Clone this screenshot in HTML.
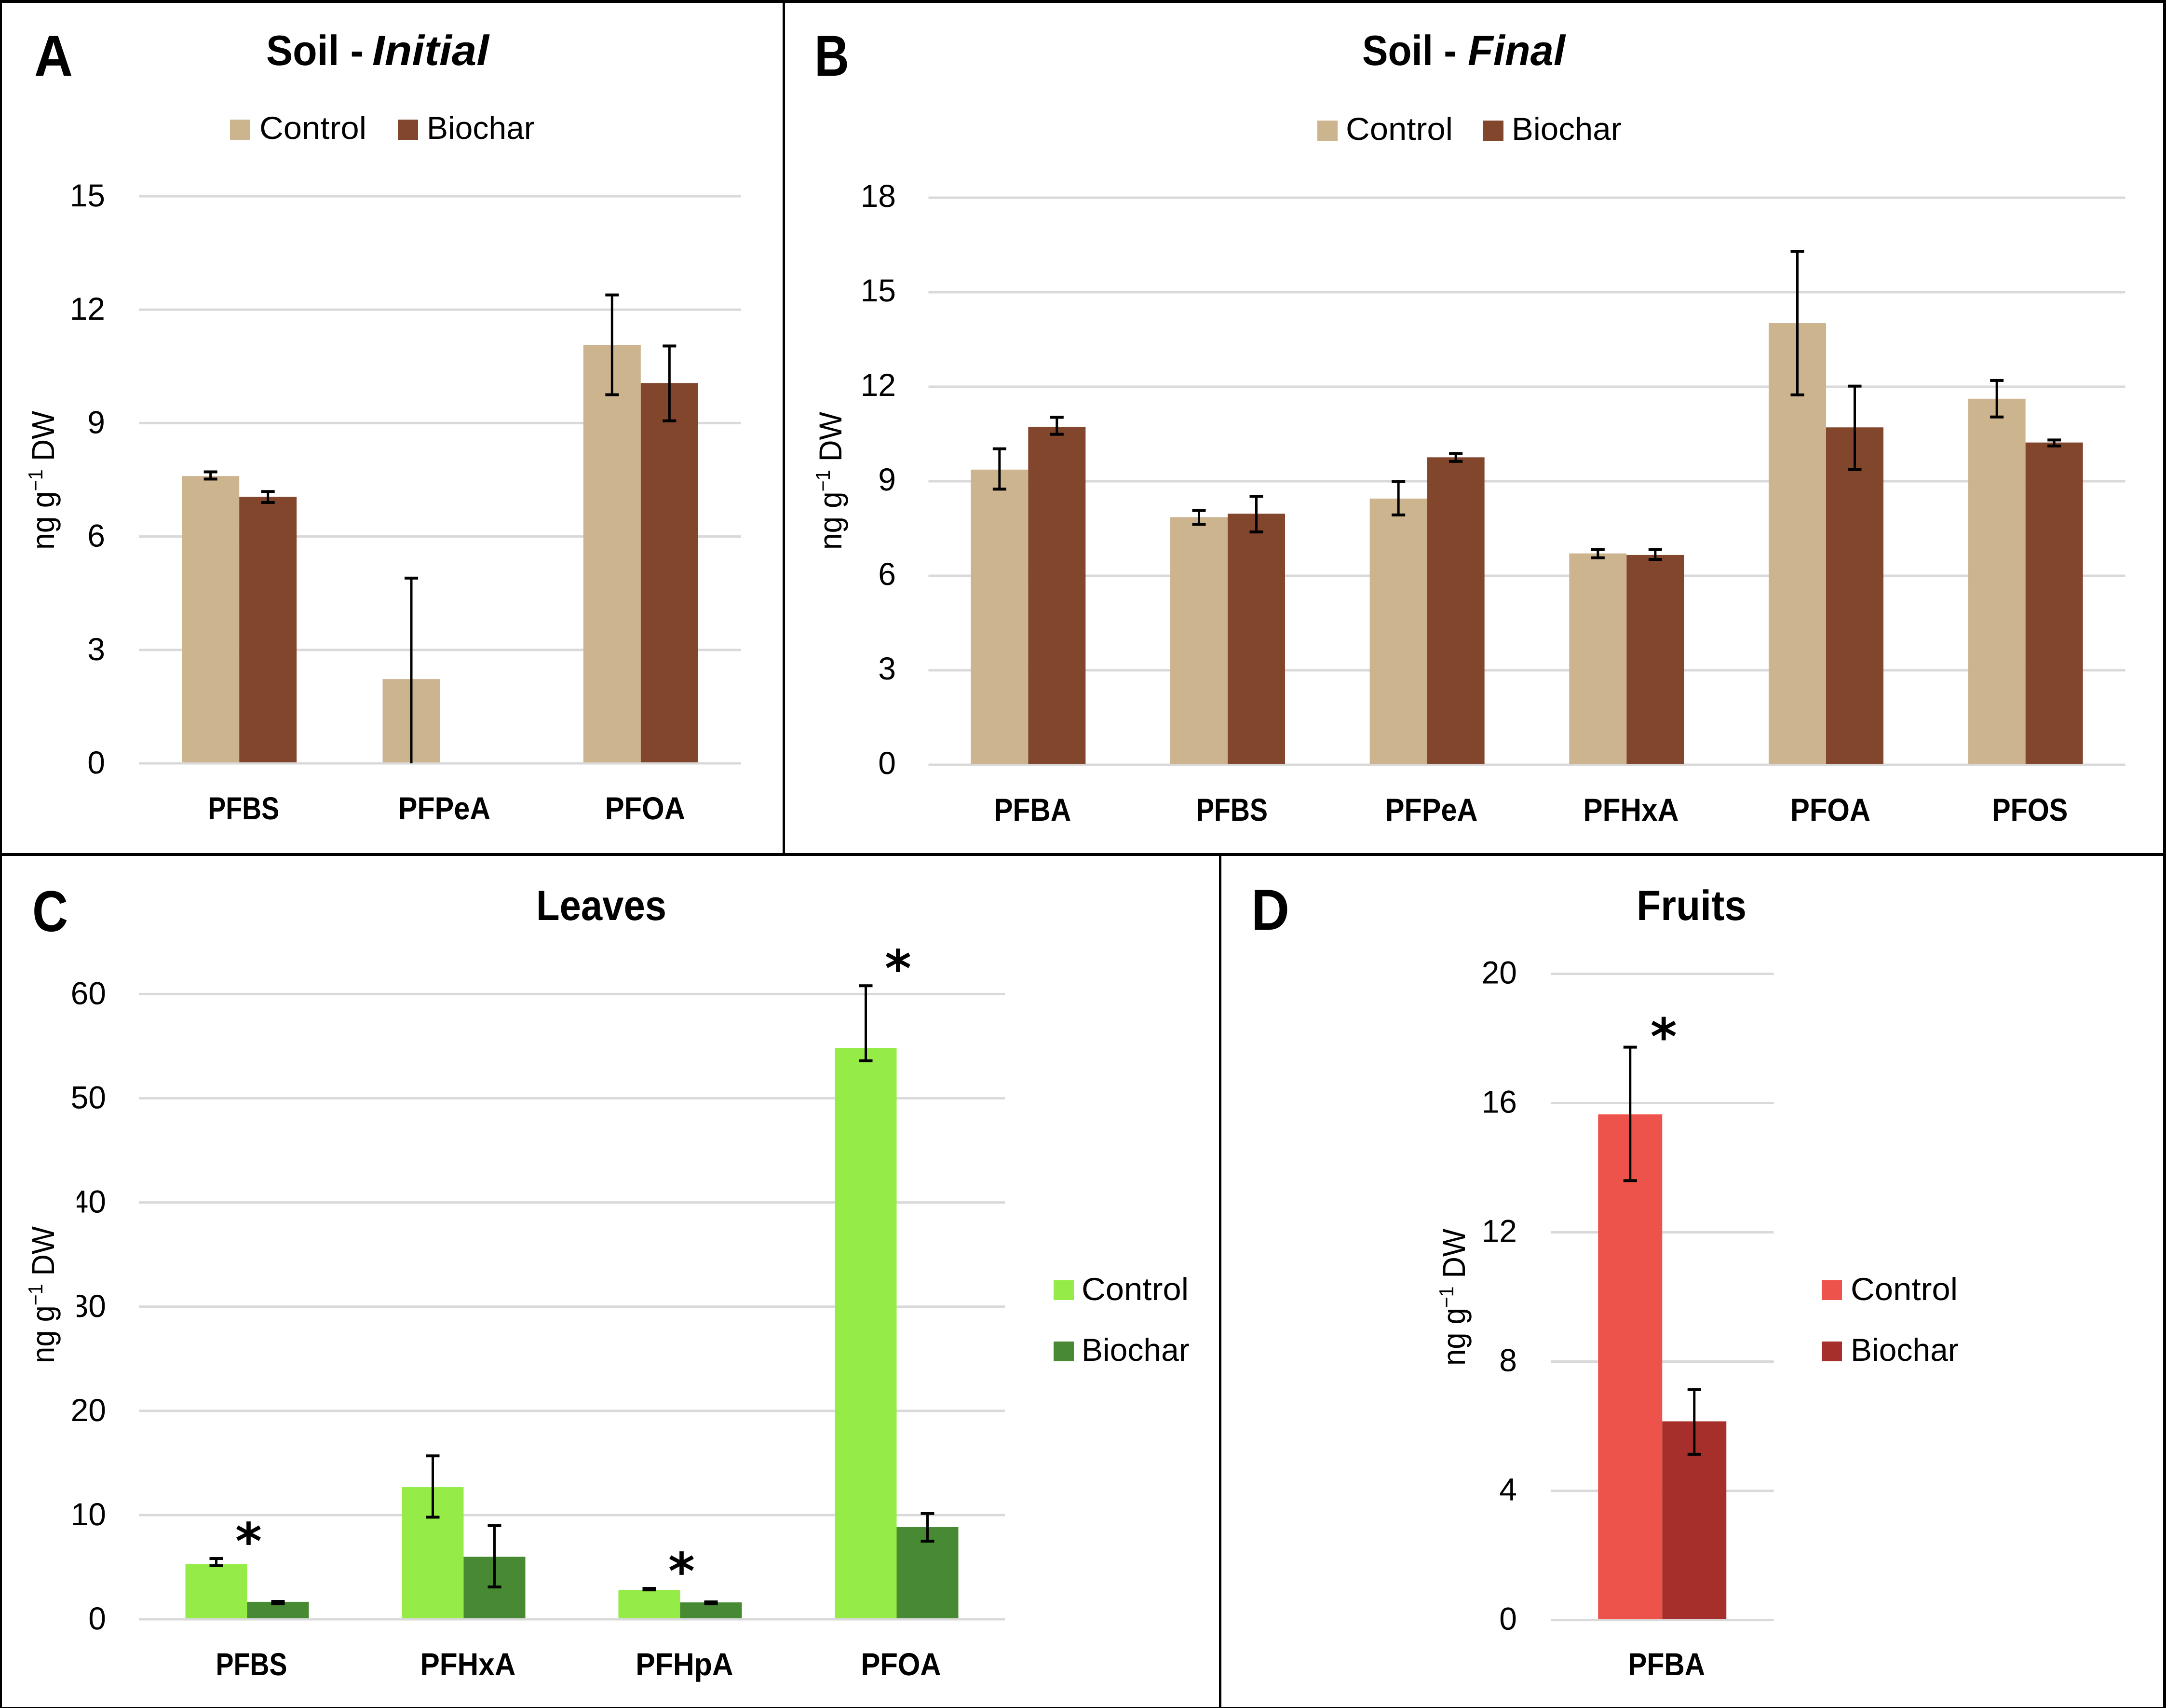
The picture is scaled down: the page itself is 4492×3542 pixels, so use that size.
<!DOCTYPE html>
<html lang="en">
<head>
<meta charset="utf-8">
<title>PFAS concentrations: soil, leaves and fruits</title>
<style>
html,body{margin:0;padding:0;background:#fff;}
body{width:4492px;height:3542px;overflow:hidden;}
svg{display:block;font-family:"Liberation Sans",sans-serif;text-rendering:geometricPrecision;}
</style>
</head>
<body>
<svg id="figure" xmlns="http://www.w3.org/2000/svg" width="4492" height="3542" viewBox="0 0 4492 3542">
  <rect x="0" y="0" width="4492" height="3542" fill="#ffffff"/>

  <g id="marks-a"></g>
  <g id="marks-b"></g>
  <g id="marks-c"></g>
  <g id="marks-d"></g>

  <rect x="60" y="2400" width="99" height="400" fill="#ffffff"/>

  <g fill="#000000">
    <rect x="0" y="0" width="4492" height="6"/>
    <rect x="0" y="0" width="4" height="3542"/>
    <rect x="4486" y="0" width="6" height="3542"/>
    <rect x="0" y="3540" width="4492" height="2"/>
    <rect x="0" y="1769" width="4492" height="6"/>
    <rect x="1623" y="0" width="5" height="1772"/>
    <rect x="2528" y="1772" width="5" height="1770"/>
  </g>

  <g font-size="120" font-weight="700" fill="#000">
    <text x="71" y="157" textLength="80" lengthAdjust="spacingAndGlyphs">A</text>
    <text x="1689" y="157" textLength="72" lengthAdjust="spacingAndGlyphs">B</text>
    <text x="67" y="1931" textLength="74" lengthAdjust="spacingAndGlyphs">C</text>
    <text x="2595" y="1928" textLength="79" lengthAdjust="spacingAndGlyphs">D</text>
  </g>

  <g font-size="88" font-weight="700" fill="#000">
    <text x="552" y="135" textLength="202" lengthAdjust="spacingAndGlyphs">Soil -</text>
    <text x="772" y="135" textLength="242" lengthAdjust="spacingAndGlyphs" font-style="italic">Initial</text>
    <text x="2825" y="135" textLength="196" lengthAdjust="spacingAndGlyphs">Soil -</text>
    <text x="3044" y="135" textLength="202" lengthAdjust="spacingAndGlyphs" font-style="italic">Final</text>
    <text x="1112" y="1908" textLength="270" lengthAdjust="spacingAndGlyphs">Leaves</text>
    <text x="3394" y="1908" textLength="228" lengthAdjust="spacingAndGlyphs">Fruits</text>
  </g>

  <g font-size="66" fill="#000">
    <text transform="translate(112,1140) rotate(-90)" textLength="288" lengthAdjust="spacingAndGlyphs">ng g<tspan dy="-24" font-size="42">−1</tspan><tspan dy="24"> DW</tspan></text>
    <text transform="translate(1745,1140) rotate(-90)" textLength="286" lengthAdjust="spacingAndGlyphs">ng g<tspan dy="-24" font-size="42">−1</tspan><tspan dy="24"> DW</tspan></text>
    <text transform="translate(112,2827) rotate(-90)" textLength="284" lengthAdjust="spacingAndGlyphs">ng g<tspan dy="-24" font-size="42">−1</tspan><tspan dy="24"> DW</tspan></text>
    <text transform="translate(3038,2832) rotate(-90)" textLength="284" lengthAdjust="spacingAndGlyphs">ng g<tspan dy="-24" font-size="42">−1</tspan><tspan dy="24"> DW</tspan></text>
  </g>

  <g font-size="66" fill="#000">
    <rect x="477" y="248" width="42" height="42" fill="#CCB48F"/>
    <text x="538" y="288" textLength="222" lengthAdjust="spacingAndGlyphs">Control</text>
    <rect x="825" y="248" width="42" height="42" fill="#82462D"/>
    <text x="885" y="288">Biochar</text>
  </g>
  <g font-size="66" fill="#000">
    <rect x="2732" y="250" width="42" height="42" fill="#CCB48F"/>
    <text x="2791" y="290" textLength="222" lengthAdjust="spacingAndGlyphs">Control</text>
    <rect x="3076" y="250" width="42" height="42" fill="#82462D"/>
    <text x="3135" y="290" textLength="228" lengthAdjust="spacingAndGlyphs">Biochar</text>
  </g>
  <g font-size="66" fill="#000">
    <rect x="2185" y="2655" width="42" height="41" fill="#96EC47"/>
    <text x="2243" y="2696" textLength="222" lengthAdjust="spacingAndGlyphs">Control</text>
    <rect x="2185" y="2782" width="42" height="41" fill="#478A33"/>
    <text x="2243" y="2822">Biochar</text>
  </g>
  <g font-size="66" fill="#000">
    <rect x="3778" y="2655" width="42" height="41" fill="#EE534B"/>
    <text x="3838" y="2696" textLength="222" lengthAdjust="spacingAndGlyphs">Control</text>
    <rect x="3778" y="2782" width="42" height="41" fill="#A62F2B"/>
    <text x="3838" y="2822">Biochar</text>
  </g>
</svg>

<script>
// Panel A: Soil - Initial
const aCategories = ['PFBS', 'PFPeA', 'PFOA'];
const aTicks = [0, 3, 6, 9, 12, 15];
const aControl = [7.6, 2.23, 11.07];
const aBiochar = [7.05, 0, 10.06];
const aControlHigh = [7.71, 4.9, 12.39];
const aControlLow = [7.52, 0, 9.75];
const aBiocharHigh = [7.19, 0, 11.04];
const aBiocharLow = [6.9, 0, 9.06];
const aSignificant = [false, false, false];

// Panel B: Soil - Final
const bCategories = ['PFBA', 'PFBS', 'PFPeA', 'PFHxA', 'PFOA', 'PFOS'];
const bTicks = [0, 3, 6, 9, 12, 15, 18];
const bControl = [9.37, 7.86, 8.45, 6.71, 14.02, 11.62];
const bBiochar = [10.73, 7.97, 9.76, 6.66, 10.71, 10.23];
const bControlHigh = [10.03, 8.07, 8.99, 6.83, 16.3, 12.2];
const bControlLow = [8.75, 7.63, 7.93, 6.57, 11.74, 11.04];
const bBiocharHigh = [11.03, 8.52, 9.88, 6.83, 12.02, 10.31];
const bBiocharLow = [10.49, 7.39, 9.63, 6.52, 9.37, 10.12];
const bSignificant = [false, false, false, false, false, false];

// Panel C: Leaves
const cCategories = ['PFBS', 'PFHxA', 'PFHpA', 'PFOA'];
const cTicks = [0, 10, 20, 30, 40, 50, 60];
const cControl = [5.3, 12.68, 2.82, 54.84];
const cBiochar = [1.67, 6.0, 1.62, 8.84];
const cControlHigh = [5.83, 15.68, 2.96, 60.8];
const cControlLow = [5.14, 9.8, 2.82, 53.6];
const cBiocharHigh = [1.71, 8.98, 1.67, 10.16];
const cBiocharLow = [1.48, 3.1, 1.48, 7.5];
const cSignificant = [true, false, true, true];

// Panel D: Fruits
const dCategories = ['PFBA'];
const dTicks = [0, 4, 8, 12, 16, 20];
const dControl = [15.65];
const dBiochar = [6.15];
const dControlHigh = [17.73];
const dControlLow = [13.6];
const dBiocharHigh = [7.13];
const dBiocharLow = [5.13];
const dSignificant = [true];

const SVG_NS = 'http://www.w3.org/2000/svg';
const labelCondense = { PFBS: 0.84, PFBA: 0.89, PFOS: 0.875, PFOA: 0.906, PFPeA: 0.9, PFHxA: 0.915, PFHpA: 0.92 };

function makeRect(parent, x, y, w, h, fill) {
  const el = document.createElementNS(SVG_NS, 'rect');
  el.setAttribute('x', x);
  el.setAttribute('y', y);
  el.setAttribute('width', w);
  el.setAttribute('height', h);
  el.setAttribute('fill', fill);
  parent.appendChild(el);
  return el;
}

function makeText(parent, str, x, y, size, anchor) {
  const el = document.createElementNS(SVG_NS, 'text');
  el.textContent = str;
  el.setAttribute('x', x);
  el.setAttribute('y', y);
  el.setAttribute('font-size', size);
  el.setAttribute('text-anchor', anchor);
  el.setAttribute('fill', '#000');
  parent.appendChild(el);
  return el;
}

function drawError(parent, cx, high, low, yScale, series, category) {
  if (high === 0 && low === 0) return;
  const stem = makeRect(parent, cx - 2.5, yScale(high), 5, yScale(low) - yScale(high), '#000');
  
  
  const capTop = makeRect(parent, cx - 14, yScale(high) - 3, 28, 6, '#000');
  
  
  if (low > 0) {
    const capBottom = makeRect(parent, cx - 14, yScale(low) - 3, 28, 6, '#000');
    
    
  }
}

function drawPanel(p) {
  const g = document.getElementById(p.id);
  const yMax = p.ticks[p.ticks.length - 1];
  const yScale = v => p.y0 - (v / yMax) * (p.y0 - p.yTop);
  const catW = (p.right - p.left) / p.categories.length;
  const xCenter = i => p.left + (i + 0.5) * catW;

  p.ticks.forEach(t => {
    const line = makeRect(g, p.left, yScale(t) - 2.5, p.right - p.left, 5, '#D9D9D9');
    
    
    const label = makeText(g, String(t), p.tickRight, yScale(t) + p.tickDrop, 66, 'end');
    
    
  });

  p.categories.forEach((cat, i) => {
    const cx = xCenter(i);
    const base = yScale(0) - 2;
    if (p.control[i] > 0) {
      const bar = makeRect(g, cx - p.barW, yScale(p.control[i]), p.barW, base - yScale(p.control[i]), p.colorControl);
      
      
    }
    if (p.biochar[i] > 0) {
      const bar = makeRect(g, cx, yScale(p.biochar[i]), p.barW, base - yScale(p.biochar[i]), p.colorBiochar);
      
      
    }
    drawError(g, cx - p.barW / 2, p.controlHigh[i], p.controlLow[i], yScale, 'control', cat);
    drawError(g, cx + p.barW / 2, p.biocharHigh[i], p.biocharLow[i], yScale, 'biochar', cat);

    const xl = makeText(g, cat, cx + 9, p.labelY, 66, 'middle');
    xl.setAttribute('font-weight', '700');
    xl.setAttribute('lengthAdjust', 'spacingAndGlyphs');
    xl.setAttribute('textLength', (xl.getComputedTextLength() * (labelCondense[cat] || 0.88)).toFixed(1));
    
    

    if (p.significant[i]) {
      const star = makeText(g, '*', cx + 3, yScale(p.controlHigh[i]) - p.starGap + 54, 105, 'middle');
      star.setAttribute('font-family', '"DejaVu Sans", sans-serif');
      star.setAttribute('font-weight', '700');
      
      
    }
  });
}

drawPanel({ id: 'marks-a', left: 288, right: 1537, y0: 1583, yTop: 407, barW: 119, tickRight: 218, tickDrop: 21, labelY: 1699, starGap: 53,
  colorControl: '#CCB48F', colorBiochar: '#82462D', categories: aCategories, ticks: aTicks, control: aControl, biochar: aBiochar,
  controlHigh: aControlHigh, controlLow: aControlLow, biocharHigh: aBiocharHigh, biocharLow: aBiocharLow, significant: aSignificant });

drawPanel({ id: 'marks-b', left: 1925.5, right: 4407.5, y0: 1586, yTop: 410, barW: 119, tickRight: 1858, tickDrop: 19, labelY: 1702, starGap: 53,
  colorControl: '#CCB48F', colorBiochar: '#82462D', categories: bCategories, ticks: bTicks, control: bControl, biochar: bBiochar,
  controlHigh: bControlHigh, controlLow: bControlLow, biocharHigh: bBiocharHigh, biocharLow: bBiocharLow, significant: bSignificant });

drawPanel({ id: 'marks-c', left: 288, right: 2084, y0: 3358, yTop: 2061.5, barW: 128, tickRight: 220, tickDrop: 21, labelY: 3474, starGap: 53,
  colorControl: '#96EC47', colorBiochar: '#478A33', categories: cCategories, ticks: cTicks, control: cControl, biochar: cBiochar,
  controlHigh: cControlHigh, controlLow: cControlLow, biocharHigh: cBiocharHigh, biocharLow: cBiocharLow, significant: cSignificant });

drawPanel({ id: 'marks-d', left: 3216, right: 3678.5, y0: 3359.6, yTop: 2019.5, barW: 133, tickRight: 3146, tickDrop: 20, labelY: 3474, starGap: 39,
  colorControl: '#EE534B', colorBiochar: '#A62F2B', categories: dCategories, ticks: dTicks, control: dControl, biochar: dBiochar,
  controlHigh: dControlHigh, controlLow: dControlLow, biocharHigh: dBiocharHigh, biocharLow: dBiocharLow, significant: dSignificant });
</script>
</body>
</html>
